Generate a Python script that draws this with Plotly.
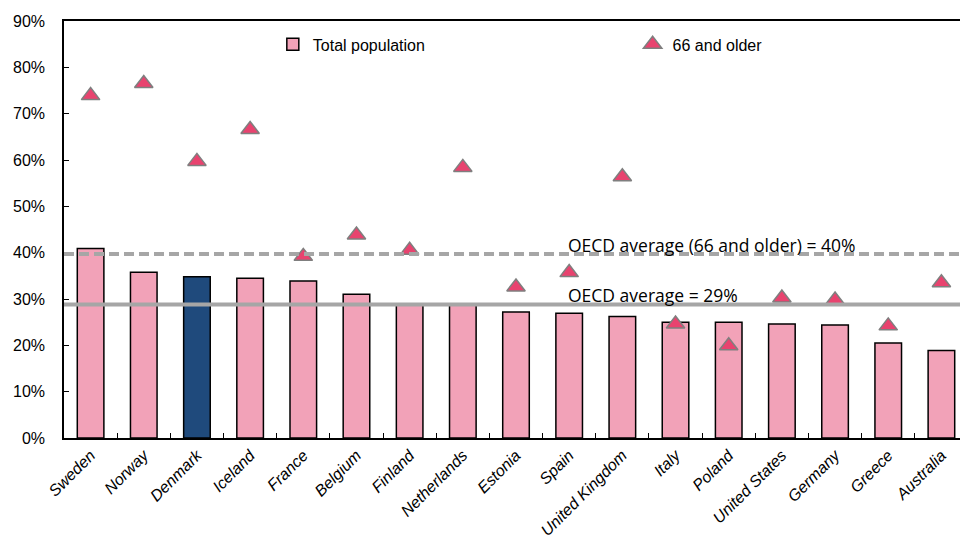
import plotly.graph_objects as go

countries = ["Sweden", "Norway", "Denmark", "Iceland", "France", "Belgium", "Finland",
             "Netherlands", "Estonia", "Spain", "United Kingdom", "Italy", "Poland",
             "United States", "Germany", "Greece", "Australia"]
total_population = [40.9, 35.8, 34.8, 34.5, 33.9, 31.0, 29.0, 28.9, 27.2, 26.9, 26.2,
                    25.0, 25.0, 24.6, 24.4, 20.5, 18.9]
age_66_older = [73.9, 76.5, 59.7, 66.6, 39.2, 43.8, 40.5, 58.4, 32.6, 35.7, 56.4,
                24.6, 19.9, 30.2, 29.8, 24.2, 33.5]
oecd_avg_older = 39.7
oecd_avg_total = 28.8
y_ticks = [0, 10, 20, 30, 40, 50, 60, 70, 80, 90]
y_tick_labels = [f"{v}%" for v in y_ticks]

PINK = "#F2A2B8"
NAVY = "#1F4A7C"
TRI = "#E8436F"
GREY = "#A6A6A6"

bar_colors = [NAVY if c == "Denmark" else PINK for c in countries]

fig = go.Figure()
fig.add_trace(go.Bar(
    x=countries, y=total_population, name="Total population", legend="legend",
    marker=dict(color=bar_colors, line=dict(color="black", width=1.5)),
))
fig.add_trace(go.Scatter(
    x=countries, y=age_66_older, name="66 and older", mode="markers", legend="legend2",
    marker=dict(symbol="triangle-up", size=16, color=TRI,
                line=dict(color="#7F7F7F", width=1.5)),
))

fig.add_shape(type="line", xref="paper", x0=0, x1=1, yref="y",
              y0=oecd_avg_older, y1=oecd_avg_older,
              line=dict(color=GREY, width=4, dash="10px,5px"), layer="above")
fig.add_shape(type="line", xref="paper", x0=0, x1=1, yref="y",
              y0=oecd_avg_total, y1=oecd_avg_total,
              line=dict(color=GREY, width=4), layer="above")

fig.add_annotation(text="OECD average (66 and older) = 40%", xref="paper", x=0.5555,
                   yref="y", y=oecd_avg_older + 1.9, xanchor="left", yanchor="middle",
                   showarrow=False, font=dict(family="Open Sans", size=17.5, color="black"))
fig.add_annotation(text="OECD average = 29%", xref="paper", x=0.5555,
                   yref="y", y=oecd_avg_total + 2.0, xanchor="left", yanchor="middle",
                   showarrow=False, font=dict(family="Open Sans", size=17.5, color="black"))

legend_font = dict(family="Liberation Sans, Arial", size=16, color="black")
# page body has an 8px default margin, so margins are shifted by 8px
fig.update_layout(
    width=968, height=535,
    margin=dict(l=56, r=8, t=13, b=105, autoexpand=False),
    plot_bgcolor="white", paper_bgcolor="white",
    bargap=0.5,
    showlegend=True,
    legend=dict(x=0.231, y=0.944, xanchor="left", yanchor="middle",
                font=legend_font, bgcolor="rgba(0,0,0,0)", itemwidth=30),
    legend2=dict(x=0.629, y=0.944, xanchor="left", yanchor="middle",
                 font=legend_font, bgcolor="rgba(0,0,0,0)", itemwidth=30),
    font=dict(family="Liberation Sans, Arial", size=16, color="black"),
)
fig.update_xaxes(
    type="category", range=[-0.5, len(countries) - 0.5], tickangle=-45,
    showline=True, linecolor="black", linewidth=1.5,
    mirror=True, ticks="inside", tickson="boundaries", ticklen=5, tickcolor="black",
    tickfont=dict(family="Liberation Sans, Arial", size=16, style="italic"),
    showgrid=False, automargin=False,
)
fig.update_yaxes(
    range=[0, 90], tickvals=y_ticks, ticktext=y_tick_labels, showline=True,
    linecolor="black", linewidth=1.5, mirror=True, ticks="inside", ticklen=5,
    tickcolor="black", showgrid=False, zeroline=False, ticklabelstandoff=14,
    tickfont=dict(family="Liberation Sans, Arial", size=16), automargin=False,
)

fig.write_html("out.html")
